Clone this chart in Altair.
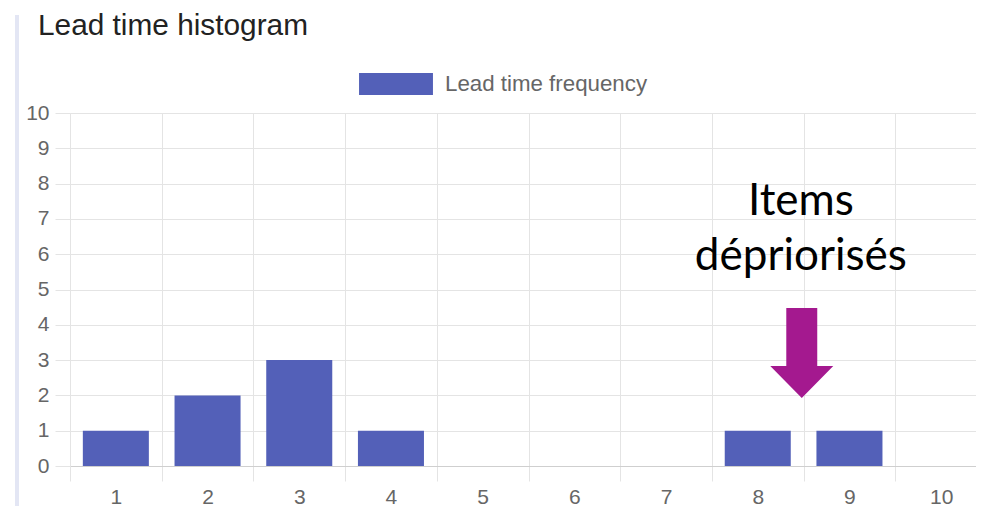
import altair as alt
import pandas as pd

# ---- data ----
lead_time = [1, 2, 3, 4, 5, 6, 7, 8, 9, 10]
frequency = [1, 2, 3, 1, 0, 0, 0, 1, 1, 0]
series_name = "Lead time frequency"
y_ticks = [0, 1, 2, 3, 4, 5, 6, 7, 8, 9, 10]
category_bounds = [0.5, 1.5, 2.5, 3.5, 4.5, 5.5, 6.5, 7.5, 8.5, 9.5]
annotation_lines = ["Items", "dépriorisés"]
chart_title = "Lead time histogram"

BAR = "#5360B8"
ARROW = "#A4198F"
GRID = "#e4e4e4"
AXIS_FONT = "Liberation Sans"

df = pd.DataFrame({"lead": lead_time, "freq": frequency, "series": [series_name] * len(lead_time)})

x_scale = alt.Scale(domain=[0.5, 10.38], nice=False, zero=False)
y_scale = alt.Scale(domain=[0, 10], nice=False)

y_axis = alt.Axis(values=y_ticks, title=None, grid=True, gridColor=GRID,
                  ticks=True, tickSize=15, tickColor=GRID, domain=True,
                  domainColor=GRID, labelPadding=6, labelFontSize=21,
                  labelColor="#666666", labelFont=AXIS_FONT)

bars = (
    alt.Chart(df)
    .transform_calculate(x0="datum.lead - 0.36", x1="datum.lead + 0.36")
    .mark_bar(stroke=None)
    .encode(
        x=alt.X(
            "x0:Q", scale=x_scale,
            axis=alt.Axis(orient="bottom", values=category_bounds, labels=False, grid=True,
                          gridColor=GRID, ticks=True, tickSize=15, tickColor=GRID,
                          domain=True, domainColor="#cfcfcf", title=None),
        ),
        x2="x1:Q",
        y=alt.Y("freq:Q", scale=y_scale, axis=y_axis),
        y2=alt.Y2(datum=0),
        color=alt.Color(
            "series:N", scale=alt.Scale(range=[BAR]),
            legend=alt.Legend(
                title=None, orient="none", legendX=304, legendY=-51, padding=0,
                symbolType="M-1.68,-0.5H1.68V0.5H-1.68Z", symbolSize=1936,
                symbolStrokeWidth=0, symbolOpacity=1, labelOffset=27,
                labelFontSize=22.3, labelColor="#666666", labelFont=AXIS_FONT,
                labelLimit=0,
            ),
        ),
    )
)

labels = (
    alt.Chart(df)
    .mark_point(opacity=0)
    .encode(
        x=alt.X(
            "lead:Q", scale=x_scale,
            axis=alt.Axis(orient="bottom", values=lead_time, grid=False, ticks=False,
                          tickSize=0, domain=False, labelPadding=20, labelFontSize=21,
                          labelColor="#666666", labelFont=AXIS_FONT, title=None,
                          labelFlush=False),
        ),
        y=alt.Y("freq:Q", scale=y_scale, axis=y_axis),
    )
)

one_row = alt.InlineData(values=[{"k": 0}])

arrow = (
    alt.Chart(one_row)
    .mark_point(
        shape="M-0.344,-1L0.344,-1L0.344,0.29L0.7,0.29L0,1L-0.7,0.29L-0.344,0.29Z",
        size=8100, filled=True, color=ARROW, opacity=1, strokeWidth=0,
    )
    .encode(x=alt.X(datum=8.48, scale=x_scale, axis=None),
            y=alt.Y(datum=3.2, scale=y_scale, axis=y_axis))
)

note = (
    alt.Chart(one_row)
    .mark_text(
        text=annotation_lines, font="Lato", fontSize=44, lineHeight=55,
        align="center", baseline="alphabetic", color="#000000",
    )
    .encode(x=alt.X(datum=8.47, scale=x_scale, axis=None),
            y=alt.Y(datum=7.11, scale=y_scale, axis=y_axis))
)

side_rule = (
    alt.Chart(one_row)
    .mark_rule(color="#e3e6f4", strokeWidth=4)
    .encode(x=alt.value(-53), y=alt.value(-98), y2=alt.value(420))
)

title_text = (
    alt.Chart(one_row)
    .mark_text(
        text=chart_title, font=AXIS_FONT, fontSize=29.8, align="left",
        baseline="alphabetic", color="#222222",
    )
    .encode(x=alt.value(-32), y=alt.value(-78))
)

chart = (
    alt.layer(side_rule, bars, labels, arrow, note, title_text)
    .resolve_axis(x="independent")
    .properties(
        width=906,
        height=353,
        autosize=alt.AutoSizeParams(type="none"),
        padding={"left": 62, "top": 105, "right": 0, "bottom": 40},
    )
    .configure_view(stroke=None)
)

chart.save("out.html", embed_options={"renderer": "svg", "actions": False})
